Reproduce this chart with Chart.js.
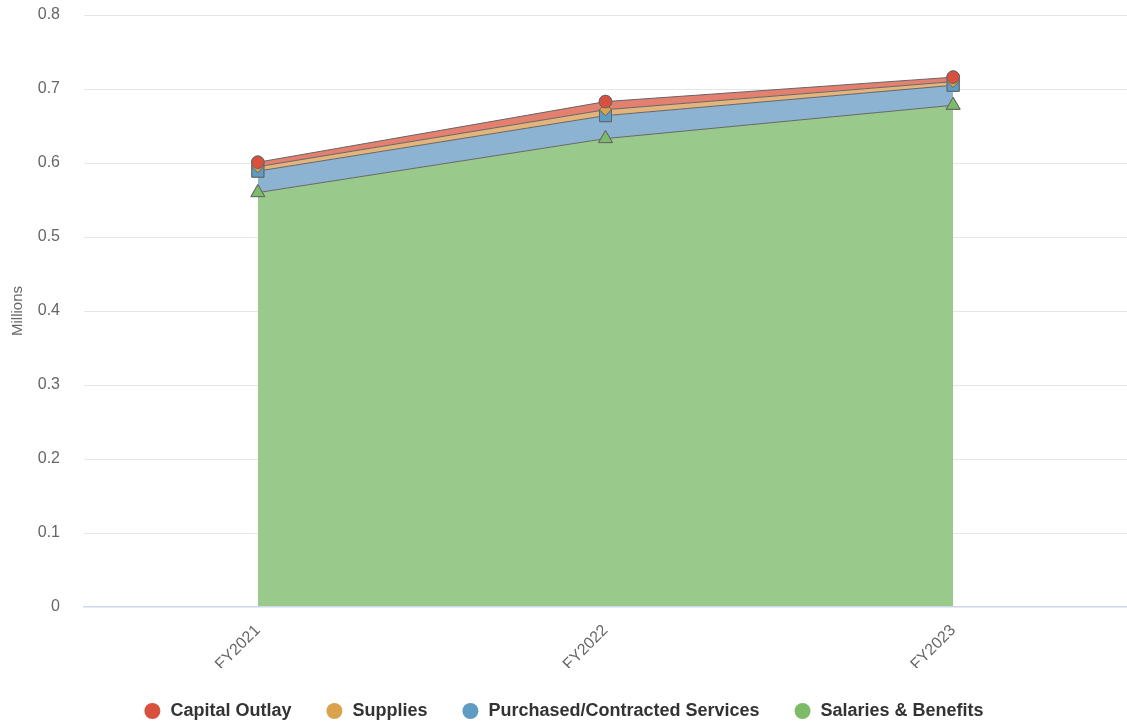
<!DOCTYPE html>
<html>
<head>
<meta charset="utf-8">
<script src="https://cdn.jsdelivr.net/npm/chart.js@4/dist/chart.umd.min.js"></script>
<style>
  html, body { margin: 0; padding: 0; background: #fff; }
  #wrap { width: 1127px; height: 723px; position: relative; }
</style>
</head>
<body>
<div id="wrap"><canvas id="chart"></canvas></div>
<script>
// values in millions
const years = ["FY2021", "FY2022", "FY2023"];
const salaries = [0.560, 0.633, 0.678];
const purchased = [0.029, 0.031, 0.027];
const supplies = [0.006, 0.008, 0.005];
const capital = [0.006, 0.011, 0.006];
const yTicks = [0, 0.1, 0.2, 0.3, 0.4, 0.5, 0.6, 0.7, 0.8];

const FONT = "'Liberation Sans', Arial, Helvetica, sans-serif";

function series(label, data, fillColor, markColor, style, radius, fill) {
    return {
        label: label,
        data: data,
        fill: fill,
        backgroundColor: fillColor,
        borderColor: '#666666',
        borderWidth: 1,
        tension: 0,
        pointStyle: style,
        pointRadius: radius,
        pointBackgroundColor: markColor,
        pointBorderColor: '#666666',
        pointBorderWidth: 1,
        legendColor: markColor
    };
}

const datasets = [
    series("Salaries & Benefits", salaries, '#99ca8c', '#7cbb67', 'triangle', 8, 'origin'),
    series("Purchased/Contracted Services", purchased, '#8cb3d1', '#5e9cc3', 'rect', 8.5, '-1'),
    series("Supplies", supplies, '#e3b47c', '#dba24e', 'rectRot', 6, '-1'),
    series("Capital Outlay", capital, '#e3806f', '#d9503f', 'circle', 6.3, '-1')
];

// redraw markers bottom-up so the top series' marker sits on top
const markerOrder = {
    id: 'markerOrder',
    afterDatasetsDraw(chart) {
        const ctx = chart.ctx;
        for (let i = 0; i < chart.data.datasets.length; i++) {
            chart.getDatasetMeta(i).data.forEach((pt) => pt.draw(ctx, chart.chartArea));
        }
    }
};

new Chart(document.getElementById('chart'), {
    type: 'line',
    data: { labels: years, datasets: datasets },
    plugins: [markerOrder],
    options: {
        responsive: true,
        maintainAspectRatio: false,
        animation: false,
        layout: { autoPadding: false, padding: { top: 15, right: 0, left: 0, bottom: -7 } },
        plugins: {
            filler: { drawTime: 'beforeDatasetsDraw' },
            tooltip: { enabled: false },
            legend: {
                position: 'bottom',
                reverse: true,
                labels: {
                    usePointStyle: true,
                    pointStyle: 'circle',
                    boxWidth: 18,
                    boxHeight: 11.3,
                    padding: 34,
                    color: '#333333',
                    font: { family: FONT, size: 18, weight: 'bold' },
                    generateLabels: (chart) => chart.data.datasets.map((ds, i) => ({
                        text: ds.label,
                        fillStyle: ds.legendColor,
                        strokeStyle: ds.legendColor,
                        lineWidth: 0,
                        pointStyle: 'circle',
                        fontColor: '#333333',
                        datasetIndex: i,
                        hidden: false
                    }))
                }
            }
        },
        scales: {
            x: {
                offset: true,
                grid: { display: false, drawTicks: false },
                border: { color: '#ccd6eb', width: 1.5, z: 1 },
                ticks: {
                    minRotation: 45,
                    maxRotation: 45,
                    padding: 14,
                    color: '#666666',
                    font: { family: FONT, size: 16 }
                },
                afterFit: (scale) => {
                    scale.height = 61;
                    scale.paddingLeft = 0;
                    scale.paddingRight = 0;
                }
            },
            y: {
                stacked: true,
                min: 0,
                max: 0.8,
                afterBuildTicks: (scale) => { scale.ticks = yTicks.map(v => ({ value: v })); },
                grid: {
                    color: (ctx) => (ctx.tick && ctx.tick.value === 0) ? 'rgba(0,0,0,0)' : '#e6e6e6',
                    drawTicks: false
                },
                border: { display: false },
                ticks: {
                    padding: 24,
                    color: '#666666',
                    font: { family: FONT, size: 16 },
                    callback: (v) => String(Math.round(v * 10) / 10)
                },
                title: {
                    display: true,
                    text: 'Millions',
                    color: '#666666',
                    font: { family: FONT, size: 15 },
                    padding: { top: 9, bottom: 0 }
                },
                afterFit: (scale) => {
                    scale.width = 84;
                    scale.paddingTop = 0;
                    scale.paddingBottom = 0;
                    scale.paddingLeft = 0;
                    scale.paddingRight = 0;
                }
            }
        }
    }
});
</script>
</body>
</html>
